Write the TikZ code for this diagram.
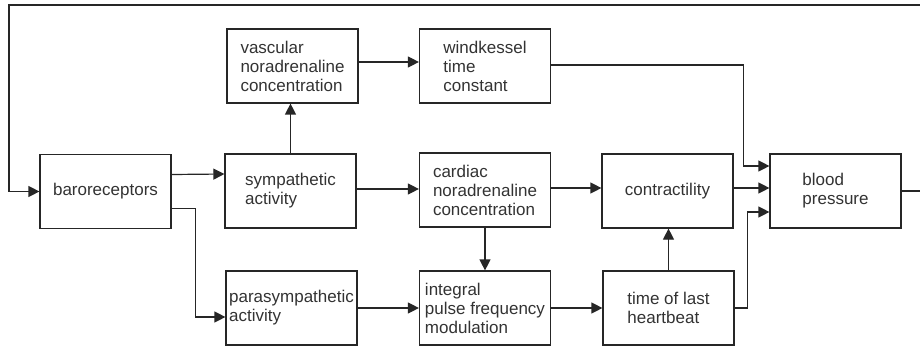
\documentclass[tikz,border=0pt]{standalone}
\usepackage{xcolor}
\usepackage{fontspec}
\setmainfont{Liberation Sans}
\usepackage{tikz}
\usetikzlibrary{arrows.meta}

\begin{document}
\begin{tikzpicture}[x=1pt, y=-1pt,
    block/.style={draw=black!85, line width=1.2pt, minimum width=131pt, minimum height=74pt,
        align=left, inner sep=2pt, text=black!80, font=\fontsize{17}{19}\selectfont},
    arr/.style={draw=black!85, line width=1.2pt, -{Triangle[length=11pt, width=11pt]}}]
    % Canvas
    \useasboundingbox (0, 0) rectangle (920, 350);
    \fill[white] (0, 0) rectangle (920, 350);
    
    % Blocks - left column
    \node[block] (baro) at (105.5, 191.5) {baroreceptors};
    
    % Blocks - nervous activity
    \node[block] (vasc) at (292.5, 66) {vascular\\noradrenaline\\concentration};
    \node[block] (symp) at (290.5, 191) {sympathetic\\activity};
    \node[block] (para) at (291.5, 308) {parasympathetic\\activity};
    
    % Blocks - middle column
    \node[block] (wind) at (485, 66) {windkessel\\time\\constant};
    \node[block] (card) at (485, 190) {cardiac\\noradrenaline\\concentration};
    \node[block] (integ) at (485, 308) {integral\\pulse frequency\\modulation};
    
    % Blocks - right columns
    \node[block] (contr) at (667.5, 191) {contractility};
    \node[block] (time) at (668.5, 308) {time of last\\heartbeat};
    \node[block] (bp) at (835.5, 191) {blood\\pressure};
    
    % Feedback loop (runs off the right edge)
    \draw[arr] (bp.east) -- ++(24, 0) |- (9, 5) |- (baro.west);
    
    % From baroreceptors
    \draw[arr] ([yshift=17pt]baro.east) -- ([yshift=17pt]symp.west);
    \draw[arr] ([yshift=-17pt]baro.east) -- ++(24, 0) |- ([yshift=-9pt]para.west);
    
    % Sympathetic branch
    \draw[arr] (symp.north) -- (symp.north |- vasc.south);
    \draw[arr] ([yshift=4pt]vasc.east) -- ([yshift=4pt]wind.west);
    \draw[arr] ([yshift=1pt]wind.east) -| ([xshift=-26pt, yshift=25pt]bp.west) -- ([yshift=25pt]bp.west);
    \draw[arr] ([yshift=2pt]symp.east) -- ([yshift=2pt]symp.east -| card.west);
    \draw[arr] ([yshift=2pt]card.east) -- ([yshift=2pt]card.east -| contr.west);
    \draw[arr] ([yshift=3pt]contr.east) -- ([yshift=3pt]bp.west);
    
    % Heartbeat timing
    \draw[arr] (card.south) -- (integ.north);
    \draw[arr] (para.east) -- (para.east -| integ.west);
    \draw[arr] (integ.east) -- (time.west);
    \draw[arr] (time.north) -- (time.north |- contr.south);
    \draw[arr] (time.east) -- ++(13, 0) |- ([yshift=-21pt]bp.west);
    
\end{tikzpicture}
\end{document}
